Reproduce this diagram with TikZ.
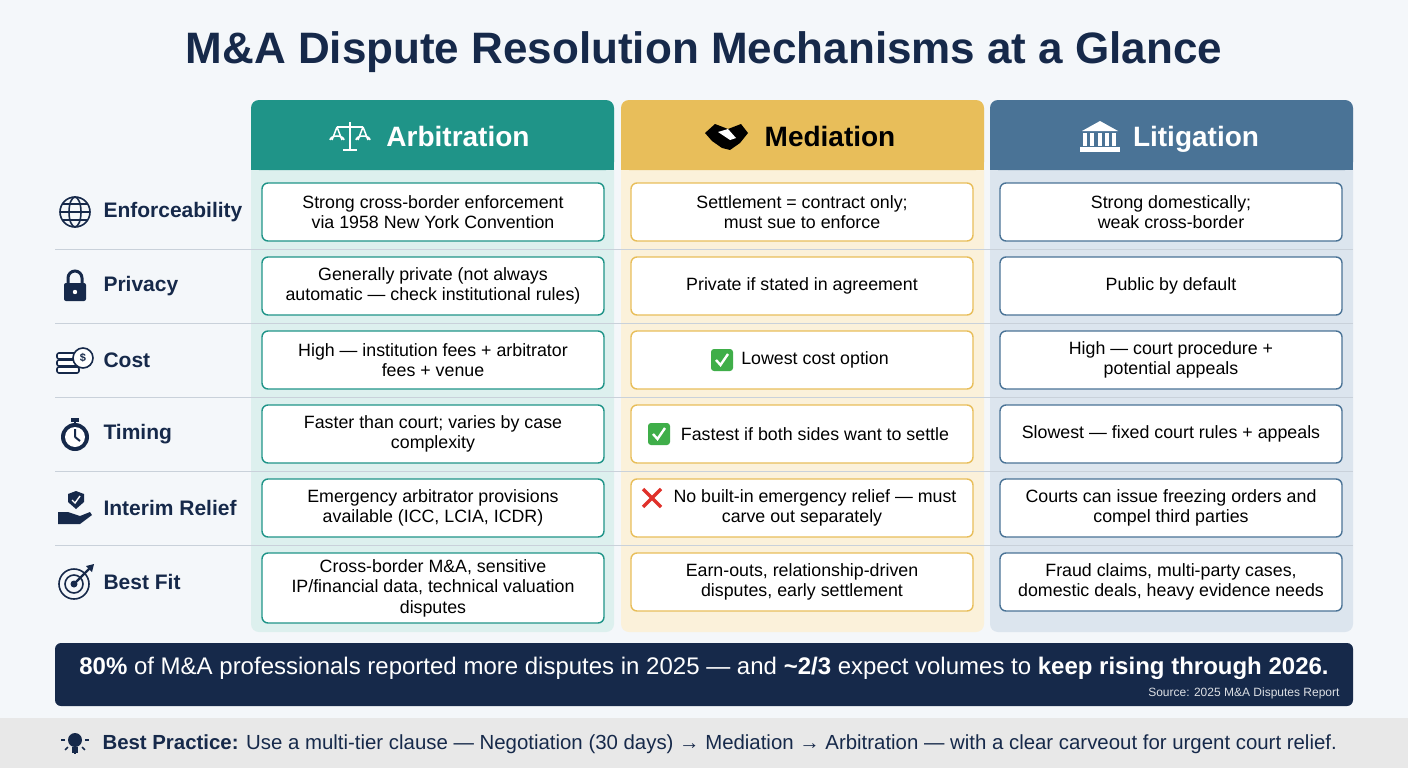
\documentclass[tikz,border=0pt]{standalone}
\usepackage{fontspec}
\setmainfont{Liberation Sans}
\usetikzlibrary{positioning}
\definecolor{navy}{HTML}{16294A}
\definecolor{teal}{HTML}{1F9488}
\definecolor{gold}{HTML}{E8BE5A}
\definecolor{steel}{HTML}{4A7396}
\definecolor{tealbg}{HTML}{DDF0EE}
\definecolor{goldbg}{HTML}{FBF1DA}
\definecolor{steelbg}{HTML}{DCE5EE}
\definecolor{pagebg}{HTML}{F4F7FA}
\definecolor{linec}{HTML}{C9D1DA}
\definecolor{okgreen}{HTML}{3FAE49}
\definecolor{nored}{HTML}{E0312B}
\tikzset{
 cell/.style={draw=#1, line width=1.4pt, fill=white, rounded corners=6pt, minimum width=342pt, minimum height=58pt, align=center, font=\fontsize{17.8}{20.5}\selectfont, text=black, inner sep=2pt},
 rowlab/.style={anchor=west, font=\fontsize{21}{24}\selectfont\bfseries, text=navy},
 head/.style={font=\fontsize{28}{30}\selectfont\bfseries, anchor=base},
 ic/.style={navy, line width=1.6pt}
}
\begin{document}
\begin{tikzpicture}[x=1pt,y=-1pt]
\useasboundingbox (0,0) rectangle (1408,768);
\fill[pagebg] (0,0) rectangle (1408,768);
\node[font=\fontsize{44}{46}\selectfont\bfseries, text=navy] (title) at (704,52) {M\&A Dispute Resolution Mechanisms at a Glance};
% column backgrounds
\fill[tealbg, rounded corners=8pt] (251,100) rectangle (614,632);
\fill[goldbg, rounded corners=8pt] (621,100) rectangle (984,632);
\fill[steelbg, rounded corners=8pt] (990,100) rectangle (1353,632);
\fill[teal, rounded corners=8pt] (251,100) rectangle (614,170); \fill[teal] (251,150) rectangle (614,170);
\fill[gold, rounded corners=8pt] (621,100) rectangle (984,170); \fill[gold] (621,150) rectangle (984,170);
\fill[steel, rounded corners=8pt] (990,100) rectangle (1353,170); \fill[steel] (990,150) rectangle (1353,170);
\node[head, text=white] (h1) at (458,146) {Arbitration};
\node[head, text=black] (h2) at (830,146) {Mediation};
\node[head, text=white] (h3) at (1196,146) {Litigation};
% header icons
\begin{scope}[white, line width=1.5pt]
 \draw (350,122) -- (350,150) (337,127) -- (363,127) (343,150) -- (357,150);
 \draw (337,127) -- (332,140) (337,127) -- (342,140) (330,140) arc (180:360:7 and 4);
 \draw (363,127) -- (358,140) (363,127) -- (368,140) (356,140) arc (180:360:7 and 4);
\end{scope}
\fill[black] (705,133) -- (715,124) -- (728,129) -- (741,124) -- (748,133) -- (740,143) -- (730,150) -- (722,148) -- (712,141) -- cycle;
\fill[white] (718,132) -- (728,129) -- (736,138) -- (730,140) -- cycle;
\begin{scope}[white]
 \fill (1082,131) -- (1100,121) -- (1118,131) -- cycle;
 \foreach \i in {1085,1092,1100,1107,1114} \fill (\i-2.2,133) rectangle (\i+2.2,146);
 \fill (1080,147) rectangle (1120,152);
\end{scope}
% row separators
\foreach \y in {249,323,397,471,545} \draw[linec, line width=0.8pt] (55,\y) -- (1353,\y);
% row labels and icons
\node[rowlab] (l1) at (100,212) {Enforceability};
\node[rowlab] (l2) at (100,286) {Privacy};
\node[rowlab] (l3) at (100,360) {Cost};
\node[rowlab] (l4) at (100,434) {Timing};
\node[rowlab] (l5) at (100,508) {Interim Relief};
\node[rowlab] (l6) at (100,582) {Best Fit};
% globe
\draw[ic] (75,212) circle (15); \draw[ic] (75,212) ellipse (6 and 15); \draw[ic] (60,212) -- (90,212) (62,204) -- (88,204) (62,220) -- (88,220);
% lock
\fill[navy, rounded corners=2pt] (64,283) rectangle (86,301); \draw[navy, line width=3pt] (68,284) -- (68,278) arc (180:360:7) -- (82,284);
\fill[white] (75,292) circle (2.2);
% coins
\foreach \k in {0,1,2} \draw[ic, fill=white, rounded corners=2pt] (57,367-\k*7) rectangle (79,373-\k*7);
\draw[ic, fill=white] (83,358) circle (10); \node[font=\fontsize{11}{11}\selectfont\bfseries, text=navy] (dol) at (83,358) {\$};
% stopwatch
\fill[navy] (75,437) circle (14); \fill[white] (75,437) circle (10); \draw[navy, line width=2pt] (75,437) -- (75,429) (75,437) -- (80,441);
\fill[navy] (71,418) rectangle (79,422); \fill[navy] (74,421) rectangle (76,424);
% hand + shield
\fill[navy] (58,512) -- (68,512) -- (80,516) -- (90,512) -- (92,515) -- (80,524) -- (58,524) -- cycle;
\fill[navy] (68,494) -- (76,491) -- (84,494) -- (84,502) -- (76,509) -- (68,502) -- cycle;
\draw[white, line width=1.4pt] (72,500) -- (75,503) -- (80,496);
% target
\draw[ic] (74,584) circle (15); \draw[ic] (74,584) circle (9); \fill[navy] (74,584) circle (3.5);
\draw[navy, line width=2.2pt] (74,584) -- (90,568); \fill[navy] (86,566) -- (94,564) -- (92,572) -- cycle;
% cells
\node[cell=teal] (a1) at (433,212) {Strong cross-border enforcement\\via 1958 New York Convention};
\node[cell=teal] (a2) at (433,286) {Generally private (not always\\automatic — check institutional rules)};
\node[cell=teal] (a3) at (433,360) {High — institution fees + arbitrator\\fees + venue};
\node[cell=teal] (a4) at (433,434) {Faster than court; varies by case\\complexity};
\node[cell=teal] (a5) at (433,508) {Emergency arbitrator provisions\\available (ICC, LCIA, ICDR)};
\node[cell=teal, minimum height=70pt] (a6) at (433,588) {Cross-border M\&A, sensitive\\IP/financial data, technical valuation\\disputes};
\node[cell=gold] (m1) at (802,212) {Settlement = contract only;\\must sue to enforce};
\node[cell=gold] (m2) at (802,286) {Private if stated in agreement};
\node[cell=gold] (m3) at (802,360) {\hspace{26pt}Lowest cost option};
\node[cell=gold] (m4) at (802,434) {\hspace{26pt}Fastest if both sides want to settle};
\node[cell=gold] (m5) at (802,508) {\hspace{26pt}No built-in emergency relief — must\\carve out separately};
\node[cell=gold] (m6) at (802,582) {Earn-outs, relationship-driven\\disputes, early settlement};
\node[cell=steel] (c1) at (1171,212) {Strong domestically;\\weak cross-border};
\node[cell=steel] (c2) at (1171,286) {Public by default};
\node[cell=steel] (c3) at (1171,360) {High — court procedure +\\potential appeals};
\node[cell=steel] (c4) at (1171,434) {Slowest — fixed court rules + appeals};
\node[cell=steel] (c5) at (1171,508) {Courts can issue freezing orders and\\compel third parties};
\node[cell=steel] (c6) at (1171,582) {Fraud claims, multi-party cases,\\domestic deals, heavy evidence needs};
% emoji-like marks
\fill[okgreen, rounded corners=3pt] (711,349) rectangle (733,371); \draw[white, line width=2.4pt] (716,360) -- (720.5,365) -- (728,354);
\fill[okgreen, rounded corners=3pt] (648,423) rectangle (670,445); \draw[white, line width=2.4pt] (653,434) -- (657.5,439) -- (665,428);
\draw[nored, line width=3.5pt] (643,489) -- (661,507) (661,489) -- (643,507);
% banner
\fill[navy, rounded corners=6pt] (55,643) rectangle (1353,706);
\node[font=\fontsize{24}{26}\selectfont, text=white] (ban) at (704,668) {\textbf{80\%} of M\&A professionals reported more disputes in 2025 — and \textbf{\textasciitilde2/3} expect volumes to \textbf{keep rising through 2026.}};
\node[font=\fontsize{12}{13}\selectfont, text=white!85!navy, anchor=east] (src) at (1343,693) {Source: 2025 M\&A Disputes Report};
% bottom strip
\fill[gray!18] (0,718) rectangle (1408,768);
\fill[navy] (75,740) circle (7); \fill[navy] (72,747) rectangle (78,753);
\foreach \a in {90,135,45,180,0} \draw[navy, line width=1.5pt] (75,740) ++(\a:10) -- ++(\a:4);
\node[font=\fontsize{20.4}{22}\selectfont, text=navy, anchor=west] (bp) at (99,744) {\textbf{Best Practice:} Use a multi-tier clause — Negotiation (30 days) → Mediation → Arbitration — with a clear carveout for urgent court relief.};
\end{tikzpicture}
\end{document}
